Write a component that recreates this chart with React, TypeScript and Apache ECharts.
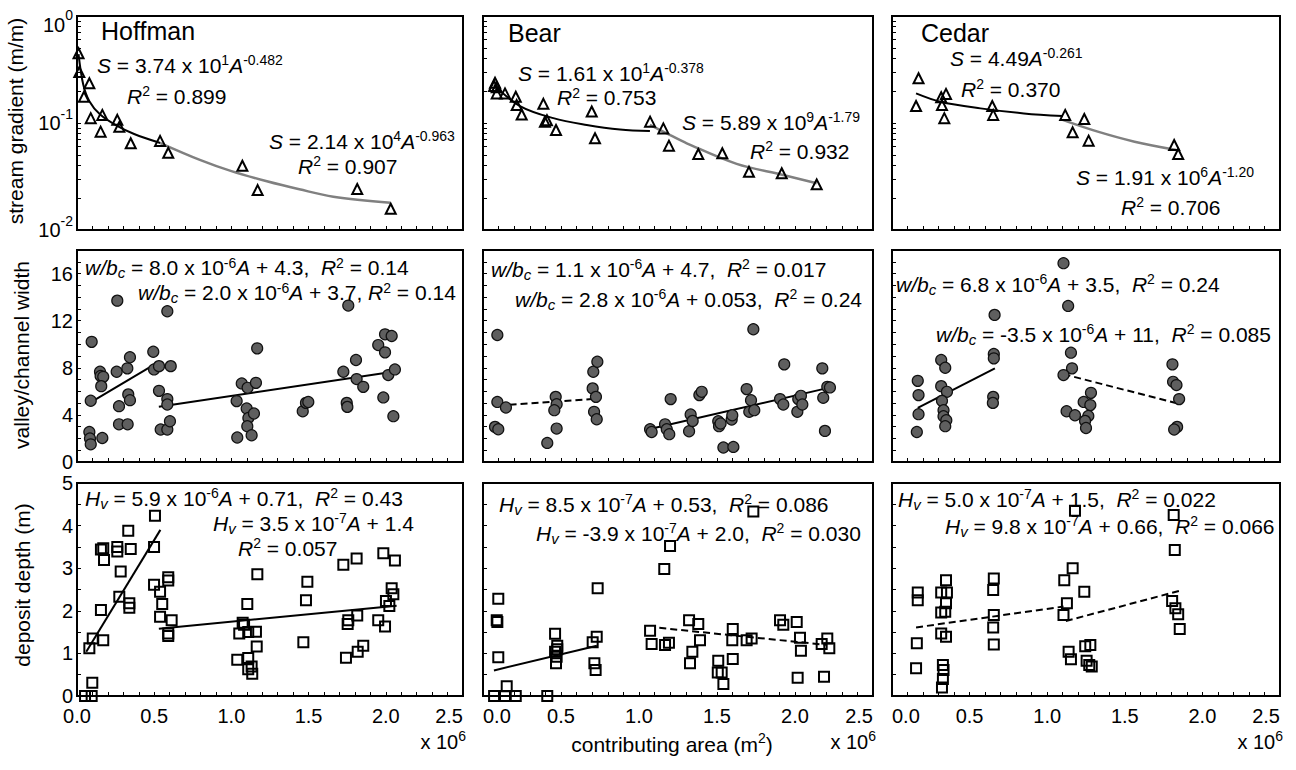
import React, { useEffect, useRef } from 'react';
import * as echarts from 'echarts';

const FONT = '"Liberation Sans", Arial, Helvetica, sans-serif';

// x values are contributing area in units of 10^6 m^2
const X_LABELS = [0, 0.5, 1, 1.5, 2, 2.5];
const LOG_TICKS = [0.01, 0.02, 0.03, 0.04, 0.05, 0.06, 0.07, 0.08, 0.09, 0.1, 0.2, 0.3, 0.4, 0.5, 0.6, 0.7, 0.8, 0.9, 1];
const LOG_LABELS = [0.01, 0.1, 1];
const WIDTH_LABELS = [0, 4, 8, 12, 16];
const DEPTH_LABELS = [0, 1, 2, 3, 4, 5];

// ---------- stream gradient (m/m) ----------
const hoffmanGradient = [
  [0.01, 0.448], [0.015, 0.3], [0.08, 0.235], [0.045, 0.176], [0.089, 0.111], [0.164, 0.119],
  [0.153, 0.083], [0.261, 0.107], [0.274, 0.092], [0.348, 0.0646], [0.538, 0.068], [0.591, 0.0528],
  [1.071, 0.0399], [1.17, 0.0236], [1.815, 0.0242], [2.032, 0.0158],
];
const hoffmanGradientFit1 = [[0.01, 0.44], [0.04, 0.23], [0.08, 0.16], [0.15, 0.12], [0.26, 0.094], [0.37, 0.079], [0.54, 0.065]];
const hoffmanGradientFit2 = [[0.54, 0.065], [0.8, 0.045], [1.0, 0.0355], [1.23, 0.0285], [1.44, 0.024], [1.66, 0.0205], [2.03, 0.018]];

const bearGradient = [
  [0.077, 0.238], [0.071, 0.222], [0.088, 0.216], [0.088, 0.189], [0.141, 0.189], [0.21, 0.176],
  [0.216, 0.147], [0.248, 0.12], [0.387, 0.151], [0.397, 0.103], [0.41, 0.106], [0.468, 0.086],
  [0.697, 0.128], [0.718, 0.072], [1.071, 0.103], [1.156, 0.089], [1.192, 0.0614], [1.38, 0.0513],
  [1.534, 0.0521], [1.705, 0.035], [1.915, 0.0339], [2.139, 0.0267],
];
const bearGradientFit1 = [[0.071, 0.226], [0.237, 0.144], [0.451, 0.111], [0.665, 0.096], [0.878, 0.087], [1.07, 0.084]];
const bearGradientFit2 = [[1.07, 0.096], [1.2, 0.077], [1.306, 0.0646], [1.626, 0.0415], [1.925, 0.0327], [2.139, 0.0273]];

const cedarGradient = [
  [0.171, 0.262], [0.155, 0.144], [0.317, 0.174], [0.348, 0.187], [0.322, 0.147], [0.337, 0.111],
  [0.646, 0.144], [0.652, 0.119], [1.116, 0.119], [1.239, 0.109], [1.164, 0.0818], [1.267, 0.0684],
  [1.818, 0.0623], [1.844, 0.0513],
];
const cedarGradientFit1 = [[0.155, 0.189], [0.311, 0.158], [0.57, 0.137], [0.85, 0.123], [1.099, 0.116]];
const cedarGradientFit2 = [[1.099, 0.107], [1.326, 0.083], [1.563, 0.0669], [1.833, 0.056]];

// ---------- valley/channel width ----------
const hoffmanWidth = [
  [0.095, 10.2], [0.08, 2.55], [0.084, 2.0], [0.089, 1.5], [0.089, 5.2], [0.149, 7.66], [0.153, 7.3],
  [0.17, 7.23], [0.157, 6.44], [0.164, 2.04], [0.261, 13.7], [0.257, 7.66], [0.272, 4.74], [0.272, 3.2],
  [0.326, 7.95], [0.343, 8.9], [0.332, 5.74], [0.343, 5.25], [0.328, 3.2], [0.494, 9.36], [0.499, 7.86],
  [0.531, 8.14], [0.531, 6.04], [0.585, 12.8], [0.585, 5.34], [0.585, 4.88], [0.542, 2.76], [0.585, 2.76],
  [0.607, 8.14], [0.602, 3.46], [1.034, 5.17], [1.038, 2.08], [1.067, 6.67], [1.105, 6.3], [1.099, 4.54],
  [1.11, 3.74], [1.103, 3.04], [1.131, 2.27], [1.146, 4.12], [1.159, 6.72], [1.167, 9.65], [1.462, 4.31],
  [1.483, 5.02], [1.498, 5.1], [1.725, 7.66], [1.747, 5.02], [1.751, 4.68], [1.757, 13.28], [1.807, 8.66],
  [1.811, 7.04], [1.854, 6.38], [1.951, 9.93], [1.984, 5.48], [1.995, 9.31], [1.995, 10.84], [2.016, 7.38],
  [2.038, 10.7], [2.059, 7.86], [2.049, 3.89],
];
const hoffmanWidthFit1 = [[0.08, 5.0], [0.53, 8.5]];
const hoffmanWidthFit2 = [[0.53, 4.7], [2.07, 7.7]];

const bearWidth = [
  [0.092, 10.78], [0.092, 5.1], [0.147, 4.63], [0.077, 2.98], [0.098, 2.78], [0.412, 1.62], [0.466, 5.53],
  [0.472, 4.91], [0.457, 4.4], [0.472, 2.84], [0.707, 7.66], [0.733, 8.51], [0.703, 6.25], [0.724, 5.53],
  [0.712, 4.26], [0.729, 3.63], [1.071, 2.78], [1.081, 2.55], [1.167, 3.2], [1.178, 2.78], [1.194, 2.36],
  [1.203, 5.34], [1.321, 2.61], [1.331, 4.03], [1.344, 3.49], [1.387, 5.68], [1.402, 5.96], [1.508, 3.46],
  [1.513, 3.04], [1.523, 3.27], [1.541, 1.23], [1.594, 3.61], [1.598, 3.97], [1.605, 1.28], [1.69, 6.19],
  [1.733, 11.27], [1.718, 5.25], [1.707, 4.26], [1.739, 4.4], [1.904, 5.34], [1.925, 4.88], [1.931, 8.29],
  [2.015, 4.26], [2.021, 5.34], [2.038, 5.62], [2.047, 4.88], [2.175, 7.95], [2.181, 5.45], [2.192, 2.64],
  [2.207, 6.38], [2.224, 6.33],
];
const bearWidthFit1 = [[0.1, 4.8], [0.7, 5.35]];
const bearWidthFit2 = [[1.07, 2.8], [2.2, 6.25]];

const cedarWidth = [
  [0.166, 6.89], [0.171, 5.68], [0.171, 4.06], [0.16, 2.55], [0.317, 8.66], [0.343, 8.0], [0.317, 6.44],
  [0.354, 5.96], [0.322, 5.19], [0.332, 4.4], [0.332, 3.89], [0.35, 3.55], [0.343, 3.04], [0.661, 12.49],
  [0.656, 9.17], [0.656, 8.8], [0.652, 5.53], [0.65, 5.02], [1.105, 16.88], [1.135, 13.25], [1.153, 9.28],
  [1.16, 7.95], [1.105, 7.38], [1.125, 4.31], [1.179, 3.97], [1.282, 5.87], [1.235, 5.1], [1.278, 4.83],
  [1.265, 3.91], [1.244, 3.49], [1.25, 2.89], [1.807, 8.29], [1.811, 6.81], [1.833, 6.53], [1.85, 5.34],
  [1.837, 2.98], [1.818, 2.76],
];
const cedarWidthFit1 = [[0.166, 4.6], [0.663, 7.95]];
const cedarWidthFit2 = [[1.105, 7.46], [1.839, 4.97]];

// ---------- deposit depth (m) ----------
const hoffmanDepth = [
  [0.052, 0], [0.095, 0], [0.099, 0.31], [0.08, 1.12], [0.102, 1.35], [0.17, 1.31], [0.155, 2.02],
  [0.155, 3.44], [0.17, 3.47], [0.175, 3.19], [0.261, 3.5], [0.261, 3.39], [0.283, 2.92], [0.274, 2.33],
  [0.332, 3.88], [0.348, 3.45], [0.339, 2.18], [0.339, 2.07], [0.505, 4.23], [0.499, 3.5], [0.499, 2.61],
  [0.538, 2.45], [0.552, 2.16], [0.538, 1.86], [0.591, 2.79], [0.591, 2.71], [0.591, 1.47], [0.591, 1.41],
  [0.613, 1.78], [1.038, 0.85], [1.051, 1.47], [1.073, 1.72], [1.082, 1.67], [1.103, 2.16], [1.109, 1.5],
  [1.109, 0.89], [1.109, 0.63], [1.131, 0.69], [1.135, 0.52], [1.159, 1.51], [1.164, 1.16], [1.168, 2.86],
  [1.466, 1.26], [1.483, 2.25], [1.492, 2.68], [1.725, 3.08], [1.742, 0.9], [1.753, 1.69], [1.757, 1.78],
  [1.811, 3.23], [1.815, 1.89], [1.818, 1.04], [1.854, 1.18], [1.951, 1.78], [1.984, 3.35], [1.995, 1.63],
  [2.001, 2.23], [2.023, 2.11], [2.038, 2.53], [2.049, 2.39], [2.059, 3.18],
];
const hoffmanDepthFit1 = [[0.06, 1.04], [0.54, 3.9]];
const hoffmanDepthFit2 = [[0.53, 1.58], [2.07, 2.12]];

const bearDepth = [
  [0.071, 0], [0.141, 0], [0.152, 0.23], [0.21, 0], [0.412, 0], [0.098, 2.28], [0.088, 1.78], [0.092, 1.74],
  [0.098, 0.91], [0.462, 1.46], [0.476, 1.18], [0.476, 1.1], [0.462, 1.04], [0.472, 0.92], [0.468, 0.77],
  [0.703, 1.26], [0.729, 1.39], [0.714, 0.77], [0.722, 0.61], [0.735, 2.53], [1.071, 1.53], [1.081, 1.22],
  [1.162, 2.98], [1.199, 3.52], [1.167, 1.2], [1.192, 1.25], [1.321, 1.78], [1.38, 1.69], [1.391, 1.31],
  [1.342, 1.04], [1.327, 0.77], [1.508, 0.83], [1.505, 0.55], [1.53, 0.55], [1.541, 0.28], [1.601, 1.57],
  [1.598, 1.31], [1.601, 0.87], [1.69, 1.31], [1.722, 1.35], [1.733, 4.33], [1.904, 1.78], [1.925, 1.67],
  [2.011, 1.74], [2.032, 1.37], [2.038, 1.06], [2.017, 0.43], [2.171, 1.22], [2.207, 1.35], [2.22, 1.12],
  [2.186, 0.45],
];
const bearDepthFit1 = [[0.07, 0.6], [0.73, 1.18]];
const bearDepthFit2 = [[1.13, 1.6], [2.2, 1.2]];

const cedarDepth = [
  [0.166, 2.43], [0.166, 2.25], [0.16, 1.24], [0.155, 0.65], [0.317, 2.43], [0.348, 2.72], [0.354, 2.43],
  [0.348, 2.18], [0.343, 1.98], [0.317, 1.96], [0.317, 1.47], [0.348, 1.39], [0.328, 0.73], [0.332, 0.61],
  [0.328, 0.4], [0.322, 0.2], [0.656, 2.76], [0.652, 2.49], [0.656, 1.9], [0.652, 1.61], [0.656, 1.21],
  [1.11, 2.72], [1.164, 3.0], [1.127, 2.18], [1.105, 1.9], [1.138, 1.04], [1.153, 0.86], [1.239, 2.45],
  [1.245, 1.17], [1.278, 1.2], [1.254, 0.83], [1.271, 0.73], [1.287, 0.69], [1.179, 4.35], [1.815, 4.25],
  [1.822, 3.43], [1.805, 2.23], [1.826, 2.06], [1.844, 1.92], [1.854, 1.57],
];
const cedarDepthFit1 = [[0.155, 1.61], [1.105, 2.1]];
const cedarDepthFit2 = [[1.12, 1.76], [1.854, 2.47]];

// ---------- layout ----------
const COLS = [
  { left: 77, width: 386 },
  { left: 483, width: 390 },
  { left: 892, width: 388 },
];
const ROWS = [
  { top: 16, height: 214 },
  { top: 250, height: 212 },
  { top: 483, height: 213 },
];
const MIN_ALIGN = ['center', 'left', 'left'];
const MAX_ALIGN = ['right', 'right', 'right'];

type Fit = { data: number[][]; color: string; width: number; dashed?: boolean; smooth?: boolean };
type Panel = { points: number[][]; marker: 'tri' | 'circle' | 'square'; fits: Fit[] };

const BLK = '#000000';
const GRY = '#808080';

const PANELS: Panel[] = [
  { points: hoffmanGradient, marker: 'tri', fits: [
    { data: hoffmanGradientFit1, color: BLK, width: 2, smooth: true },
    { data: hoffmanGradientFit2, color: GRY, width: 2.5, smooth: true }] },
  { points: bearGradient, marker: 'tri', fits: [
    { data: bearGradientFit1, color: BLK, width: 2, smooth: true },
    { data: bearGradientFit2, color: GRY, width: 2.5, smooth: true }] },
  { points: cedarGradient, marker: 'tri', fits: [
    { data: cedarGradientFit1, color: BLK, width: 2, smooth: true },
    { data: cedarGradientFit2, color: GRY, width: 2.5, smooth: true }] },
  { points: hoffmanWidth, marker: 'circle', fits: [
    { data: hoffmanWidthFit1, color: BLK, width: 2 },
    { data: hoffmanWidthFit2, color: BLK, width: 2 }] },
  { points: bearWidth, marker: 'circle', fits: [
    { data: bearWidthFit1, color: BLK, width: 2, dashed: true },
    { data: bearWidthFit2, color: BLK, width: 2 }] },
  { points: cedarWidth, marker: 'circle', fits: [
    { data: cedarWidthFit1, color: BLK, width: 2 },
    { data: cedarWidthFit2, color: BLK, width: 2, dashed: true }] },
  { points: hoffmanDepth, marker: 'square', fits: [
    { data: hoffmanDepthFit1, color: BLK, width: 2 },
    { data: hoffmanDepthFit2, color: BLK, width: 2 }] },
  { points: bearDepth, marker: 'square', fits: [
    { data: bearDepthFit1, color: BLK, width: 2 },
    { data: bearDepthFit2, color: BLK, width: 2, dashed: true }] },
  { points: cedarDepth, marker: 'square', fits: [
    { data: cedarDepthFit1, color: BLK, width: 2, dashed: true },
    { data: cedarDepthFit2, color: BLK, width: 2, dashed: true }] },
];

// ---------- annotation texts ----------
const RICH = {
  n: { fontSize: 21, fontFamily: FONT, lineHeight: 20, verticalAlign: 'middle', color: '#000' },
  i: { fontSize: 21, fontFamily: FONT, lineHeight: 20, verticalAlign: 'middle', fontStyle: 'italic', color: '#000' },
  sup: { fontSize: 14, fontFamily: FONT, lineHeight: 10, height: 10, verticalAlign: 'top', color: '#000' },
  sub: { fontSize: 15, fontFamily: FONT, lineHeight: 10, height: 10, verticalAlign: 'bottom', fontStyle: 'italic', color: '#000' },
  t: { fontSize: 25, fontFamily: FONT, lineHeight: 26, verticalAlign: 'middle', color: '#000' },
  ax: { fontSize: 21, fontFamily: FONT, lineHeight: 22, verticalAlign: 'middle', color: '#222' },
  axs: { fontSize: 14, fontFamily: FONT, lineHeight: 10, height: 10, verticalAlign: 'top', color: '#222' },
  tk: { fontSize: 20, fontFamily: FONT, lineHeight: 22, verticalAlign: 'middle', color: '#000' },
  tks: { fontSize: 14, fontFamily: FONT, lineHeight: 4, height: 4, verticalAlign: 'top', color: '#000' },
  tks2: { fontSize: 14, fontFamily: FONT, lineHeight: 10, height: 10, verticalAlign: 'top', color: '#000' },
};

const S = '{i|S}{n| = }';
const R2 = (v: string) => `{i|R}{sup|2}{n| = ${v}}`;
const WB = '{i|w/b}{sub|c}{n| = }';
const HV = '{i|H}{sub|v}{n| = }';

const ANNOTATIONS = [
  { text: '{t|Hoffman}', x: 101, y: 31 },
  { text: `${S}{n|3.74 x 10}{sup|1}{i|A}{sup|-0.482}`, x: 97, y: 65 },
  { text: R2('0.899'), x: 127, y: 96 },
  { text: `${S}{n|2.14 x 10}{sup|4}{i|A}{sup|-0.963}`, x: 269, y: 141 },
  { text: R2('0.907'), x: 298, y: 166 },

  { text: '{t|Bear}', x: 508, y: 33 },
  { text: `${S}{n|1.61 x 10}{sup|1}{i|A}{sup|-0.378}`, x: 518, y: 73 },
  { text: R2('0.753'), x: 557, y: 97.5 },
  { text: `${S}{n|5.89 x 10}{sup|9}{i|A}{sup|-1.79}`, x: 682, y: 122 },
  { text: R2('0.932'), x: 750, y: 151 },

  { text: '{t|Cedar}', x: 921, y: 33 },
  { text: `${S}{n|4.49}{i|A}{sup|-0.261}`, x: 950, y: 58 },
  { text: R2('0.370'), x: 961, y: 89 },
  { text: `${S}{n|1.91 x 10}{sup|6}{i|A}{sup|-1.20}`, x: 1076, y: 177 },
  { text: R2('0.706'), x: 1121, y: 207 },

  { text: `${WB}{n|8.0 x 10}{sup|-6}{i|A}{n| + 4.3,  }${R2('0.14')}`, x: 85, y: 267.5 },
  { text: `${WB}{n|2.0 x 10}{sup|-6}{i|A}{n| + 3.7, }${R2('0.14')}`, x: 138, y: 292.5 },
  { text: `${WB}{n|1.1 x 10}{sup|-6}{i|A}{n| + 4.7,  }${R2('0.017')}`, x: 491, y: 269 },
  { text: `${WB}{n|2.8 x 10}{sup|-6}{i|A}{n| + 0.053,  }${R2('0.24')}`, x: 515, y: 299 },
  { text: `${WB}{n|6.8 x 10}{sup|-6}{i|A}{n| + 3.5,  }${R2('0.24')}`, x: 896, y: 284 },
  { text: `${WB}{n|-3.5 x 10}{sup|-6}{i|A}{n| + 11,  }${R2('0.085')}`, x: 936, y: 334 },

  { text: `${HV}{n|5.9 x 10}{sup|-6}{i|A}{n| + 0.71,  }${R2('0.43')}`, x: 85, y: 498 },
  { text: `${HV}{n|3.5 x 10}{sup|-7}{i|A}{n| + 1.4}`, x: 213, y: 523 },
  { text: R2('0.057'), x: 238, y: 548 },
  { text: `${HV}{n|8.5 x 10}{sup|-7}{i|A}{n| + 0.53,  }${R2('0.086')}`, x: 499, y: 504 },
  { text: `${HV}{n|-3.9 x 10}{sup|-7}{i|A}{n| + 2.0,  }${R2('0.030')}`, x: 536, y: 533 },
  { text: `${HV}{n|5.0 x 10}{sup|-7}{i|A}{n| + 1.5,  }${R2('0.022')}`, x: 898, y: 499 },
  { text: `${HV}{n|9.8 x 10}{sup|-7}{i|A}{n| + 0.66,  }${R2('0.066')}`, x: 945, y: 526 },
];

const Y_TITLES = [
  { text: 'stream gradient (m/m)', x: 15, y: 121 },
  { text: 'valley/channel width', x: 21, y: 355 },
  { text: 'deposit depth (m)', x: 22, y: 585 },
];

function buildOption() {
  const grid: any[] = [];
  const xAxis: any[] = [];
  const yAxis: any[] = [];
  const series: any[] = [];

  PANELS.forEach((panel, p) => {
    const r = Math.floor(p / 3);
    const c = p % 3;
    grid.push({
      left: COLS[c].left, width: COLS[c].width, top: ROWS[r].top, height: ROWS[r].height,
      show: true, borderColor: '#000', borderWidth: 2, backgroundColor: 'transparent',
      containLabel: false, outerBoundsMode: 'none',
    });
    const axisLine = { show: true, onZero: false, lineStyle: { color: '#000', width: 2 } };
    const tick = { show: true, inside: true, length: 4, lineStyle: { color: '#000', width: 1 } };
    xAxis.push({
      type: 'value', gridIndex: p, min: 0, max: 2.5, interval: 0.1,
      axisLine, axisTick: tick, splitLine: { show: false }, minorTick: { show: false },
      axisLabel: r === 2 ? {
        show: true, customValues: X_LABELS, formatter: (v: number) => v.toFixed(1),
        fontSize: 20, fontFamily: FONT, color: '#000', margin: 10,
        alignMinLabel: MIN_ALIGN[c], alignMaxLabel: MAX_ALIGN[c],
      } : { show: false },
    });
    if (r === 0) {
      yAxis.push({
        type: 'log', logBase: 10, gridIndex: p, min: 0.01, max: 1,
        axisLine, axisTick: { ...tick, customValues: LOG_TICKS }, splitLine: { show: false },
        minorTick: { show: false },
        axisLabel: c === 0 ? {
          show: true, customValues: LOG_LABELS, margin: 4,
          formatter: (v: number) => {
            const e = Math.round(Math.log10(v));
            return e === 0 ? `{tkd|10}{tksd|${e}}` : `{tk|10}{tks|${e}}`;
          },
          rich: {
            tk: RICH.tk, tks: RICH.tks,
            tkd: { ...RICH.tk, lineHeight: 38, height: 20, verticalAlign: 'bottom' },
            tksd: { ...RICH.tks, lineHeight: 10, height: 36, verticalAlign: 'top' },
          },
        } : { show: false },
      });
    } else {
      const isWidth = r === 1;
      yAxis.push({
        type: 'value', gridIndex: p, min: 0, max: isWidth ? 18 : 5, interval: isWidth ? 1 : 0.5,
        axisLine, axisTick: tick, splitLine: { show: false }, minorTick: { show: false },
        axisLabel: c === 0 ? {
          show: true, customValues: isWidth ? WIDTH_LABELS : DEPTH_LABELS, margin: 4,
          fontSize: 20, fontFamily: FONT, color: '#000',
        } : { show: false },
      });
    }

    panel.fits.forEach((f) => {
      series.push({
        type: 'line', xAxisIndex: p, yAxisIndex: p, data: f.data,
        symbol: 'none', showSymbol: false, smooth: f.smooth ? 0.35 : false,
        lineStyle: { color: f.color, width: f.width, type: f.dashed ? [7, 4] : 'solid' },
        z: 2, silent: true,
      });
    });

    const markerStyle = panel.marker === 'circle'
      ? { symbol: 'circle', symbolSize: 11, itemStyle: { color: '#5f5f5f', borderColor: '#111', borderWidth: 1.2, opacity: 1 } }
      : panel.marker === 'tri'
        ? { symbol: 'triangle', symbolSize: 10, itemStyle: { color: 'rgba(255,255,255,0)', borderColor: '#000', borderWidth: 2, opacity: 1 } }
        : { symbol: 'rect', symbolSize: 10, itemStyle: { color: 'rgba(255,255,255,0)', borderColor: '#000', borderWidth: 2, opacity: 1 } };
    series.push({
      type: 'scatter', xAxisIndex: p, yAxisIndex: p, data: panel.points, z: 3, silent: true,
      ...markerStyle,
    });
  });

  const graphic: any[] = [];
  ANNOTATIONS.forEach((a) => {
    graphic.push({
      type: 'text', x: a.x, y: a.y, z: 50,
      style: { text: a.text, rich: RICH, align: 'left', verticalAlign: 'middle', textAlign: 'left', textVerticalAlign: 'middle' },
    });
  });
  Y_TITLES.forEach((t) => {
    graphic.push({
      type: 'text', x: t.x, y: t.y, rotation: Math.PI / 2, z: 50,
      style: { text: `{ax|${t.text}}`, rich: RICH, align: 'center', verticalAlign: 'middle', textAlign: 'center', textVerticalAlign: 'middle' },
    });
  });
  graphic.push({
    type: 'text', x: 672, y: 744, z: 50,
    style: { text: '{ax|contributing area (m}{axs|2}{ax|)}', rich: RICH, align: 'center', verticalAlign: 'middle', textAlign: 'center', textVerticalAlign: 'middle' },
  });
  COLS.forEach((col) => {
    graphic.push({
      type: 'text', x: col.left + col.width + 3, y: 742, z: 50,
      style: { text: '{tk|x 10}{tks2|6}', rich: RICH, align: 'right', verticalAlign: 'middle', textAlign: 'right', textVerticalAlign: 'middle' },
    });
  });

  return {
    animation: false,
    backgroundColor: '#ffffff',
    textStyle: { fontFamily: FONT },
    grid, xAxis, yAxis, series, graphic,
  };
}

export default function App() {
  const ref = useRef<HTMLDivElement>(null);
  useEffect(() => {
    if (!ref.current) return;
    const chart = echarts.init(ref.current, undefined, { renderer: 'svg' });
    chart.setOption(buildOption() as any);
    return () => chart.dispose();
  }, []);
  return (
    <div
      ref={ref}
      style={{ position: 'fixed', left: 0, top: 0, width: 1296, height: 770, background: '#fff' }}
    />
  );
}
